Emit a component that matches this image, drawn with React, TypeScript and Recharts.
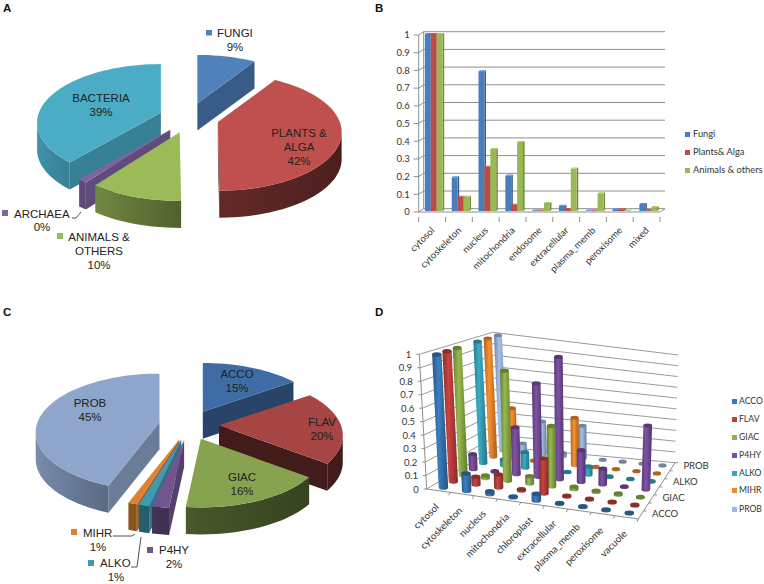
import React from "react";
import { PieChart, Pie, BarChart, Bar, XAxis, YAxis, CartesianGrid, ScatterChart, Scatter } from "recharts";

// ---- Panel A ----
const kingdomNames = ["FUNGI", "PLANTS & ALGA", "ANIMALS & OTHERS", "ARCHAEA", "BACTERIA"];
const kingdomValues = [8.6, 41.6, 10, 0.4, 39.4];
const kingdomColors = ["#4f81bd", "#c0504d", "#9bbb59", "#8064a2", "#4bacc6"];
const kingdomPaintOrder = ["FUNGI", "PLANTS & ALGA", "BACTERIA", "ARCHAEA", "ANIMALS & OTHERS"];

// ---- Panel B ----
const compartmentsB = ["cytosol", "cytoskeleton", "nucleus", "mitochondria", "endosome", "extracellular", "plasma_memb", "peroxisome", "mixed"];
const fungiValues = [1, 0.19, 0.79, 0.2, 0.003, 0.03, 0.003, 0.01, 0.04];
const plantsValues = [1, 0.08, 0.25, 0.035, 0.003, 0.012, 0.003, 0.01, 0.005];
const animalsValues = [1, 0.08, 0.35, 0.39, 0.045, 0.24, 0.1, 0.002, 0.022];
const valueTicks = [0, 0.1, 0.2, 0.3, 0.4, 0.5, 0.6, 0.7, 0.8, 0.9, 1];

// ---- Panel C ----
const proteinNames = ["ACCO", "FLAV", "GIAC", "P4HY", "ALKO", "MIHR", "PROB"];
const proteinValues = [15.3, 20.3, 16.4, 1.9, 1.2, 1, 44.6];
const proteinPieColors = ["#3f6ca5", "#a64543", "#86a44f", "#70558f", "#3f9bb3", "#dd8230", "#8ea5cc"];
const proteinPaintOrder = ["ACCO", "FLAV", "PROB", "MIHR", "ALKO", "P4HY", "GIAC"];

// ---- Panel D ----
const compartmentsD = ["cytosol", "cytoskeleton", "nucleus", "mitochondria", "chloroplast", "extracellular", "plasma_memb", "peroxisome", "vacuole"];
const accoD = [1, 0.13, 0.02, 0.005, 0.05, 0.005, 0.005, 0.005, 0.005];
const flavD = [1, 0.06, 0.1, 0.01, 0.27, 0.005, 0.005, 0.005, 0.005];
const giacD = [1, 0.02, 0.87, 0.06, 0.48, 0.02, 0.01, 0.01, 0.005];
const p4hyD = [0.12, 0.005, 0.38, 0.76, 1, 0.26, 0.13, 0.005, 0.53];
const alkoD = [1, 0.05, 0.13, 0.005, 0.005, 0.07, 0.005, 0.005, 0.005];
const mihrD = [1, 0.43, 0.005, 0.005, 0.41, 0.005, 0.005, 0.005, 0.005];
const probD = [1, 0.08, 0.29, 0.03, 0.29, 0.005, 0.005, 0.005, 0.005];
const seriesD = [accoD, flavD, giacD, p4hyD, alkoD, mihrD, probD];
const seriesColorsD = ["#3a78b8", "#c0403c", "#8fb04a", "#7a4f9e", "#38a6bd", "#ee8a2e", "#9db8e0"];
const depthLabels = ["ACCO", "", "GIAC", "", "ALKO", "", "PROB"];

const SANS = "'Liberation Sans', Arial, sans-serif";
const CAL = "Lato, sans-serif";
const W = 764;
const H = 584;

function shade(hex: string, f: number) {
  const n = parseInt(hex.slice(1), 16);
  const c = [(n >> 16) & 255, (n >> 8) & 255, n & 255].map((v) => Math.min(255, Math.round(v * f)));
  return `rgb(${c[0]},${c[1]},${c[2]})`;
}

// ---- exploded pie in perspective ----
const TILT = 0.467;
const PERSP = 0.17;
const EXPLODE = 0.246;
const DEPTH = 27;
const rad = (d: number) => (d * Math.PI) / 180;

function wallLight(deg: number) {
  const s = Math.sin(rad(deg));
  return s > 0 ? 0.52 - 0.14 * s : 0.52 - 0.35 * s;
}

function Slice3D(props: any) {
  const { cx, cy, outerRadius: R, startAngle, endAngle, fill } = props;
  const a0 = 90 - startAngle;
  const a1 = 90 - endAngle;
  const mid = rad((a0 + a1) / 2);
  const ax = cx + EXPLODE * R * Math.sin(mid);
  const ay = cy - EXPLODE * R * 0.5 * Math.cos(mid);
  const rim = (deg: number) => {
    const t = rad(deg);
    const den = 1 + PERSP * Math.cos(t);
    return [ax + (R * Math.sin(t)) / den, ay - (R * TILT * Math.cos(t)) / den];
  };
  const sweep = (from: number, to: number) => {
    const steps = Math.max(2, Math.ceil((to - from) / 3));
    const out: number[] = [];
    for (let i = 0; i <= steps; i++) out.push(from + ((to - from) * i) / steps);
    return out;
  };
  const arc = sweep(a0, a1).map(rim);
  const top = `M${ax},${ay} ` + arc.map((p) => `L${p[0]},${p[1]}`).join(" ") + " Z";

  // the part of the rim that faces the viewer
  const w0 = Math.max(a0, 101);
  const w1 = Math.min(a1, 259);
  let wall = null;
  if (w1 > w0) {
    const angles = sweep(w0, w1);
    const pts = angles.map(rim);
    const right = pts[0][0];
    const left = pts[pts.length - 1][0];
    const id = `wall${fill.slice(1)}`;
    const path =
      pts.map((p, i) => `${i ? "L" : "M"}${p[0]},${p[1]}`).join(" ") +
      " " +
      [...pts].reverse().map((p) => `L${p[0]},${p[1] + DEPTH}`).join(" ") +
      " Z";
    wall = (
      <g>
        <defs>
          <linearGradient id={id} gradientUnits="userSpaceOnUse" x1={left} x2={Math.max(right, left + 0.01)} y1={0} y2={0}>
            {[...angles].reverse().map((a, i) => (
              <stop key={i} offset={(rim(a)[0] - left) / Math.max(right - left, 0.01)} stopColor={shade(fill, wallLight(a))} />
            ))}
          </linearGradient>
        </defs>
        <path d={path} fill={`url(#${id})`} />
      </g>
    );
  }
  const cut = (deg: number) => {
    const p = rim(deg);
    const f = deg < 180 ? 0.82 - (0.3 * deg) / 90 : 0.75;
    return (
      <polygon fill={shade(fill, f)}
        points={`${ax},${ay} ${p[0]},${p[1]} ${p[0]},${p[1] + DEPTH} ${ax},${ay + DEPTH}`} />
    );
  };
  return (
    <g>
      {Math.sin(rad(a0)) < 0 && a0 > 0.01 && cut(a0)}
      {Math.sin(rad(a1)) > 0 && cut(a1)}
      {wall}
      <path d={top} fill={fill} />
    </g>
  );
}

// every slice is painted by its own pass, so that nearer faces cover farther ones
const onlySlice = (name: string) => (props: any) => (props.name === name ? <Slice3D {...props} /> : <g />);

function Lines({ x, y, lines, anchor = "middle", size = 11.5 }: any) {
  return (
    <text fontFamily={SANS} fontSize={size} fill="#222" textAnchor={anchor}>
      {lines.map((l: string, i: number) => (
        <tspan key={i} x={x} y={y + i * 14}>{l}</tspan>
      ))}
    </text>
  );
}

const PanelLetter = ({ c, x, y }: any) => (
  <text x={x} y={y} fontFamily={SANS} fontSize={11.5} fontWeight="bold" fill="#111">{c}</text>
);

const Layer = ({ children }: any) => <div style={{ position: "absolute", left: 0, top: 0 }}>{children}</div>;

const faceLabels: Record<string, any> = {
  "PLANTS & ALGA": { x: 299, y: 137, lines: ["PLANTS &", "ALGA", "42%"] },
  BACTERIA: { x: 101, y: 102, lines: ["BACTERIA", "39%"] },
  ACCO: { x: 237, y: 378, lines: ["ACCO", "15%"] },
  FLAV: { x: 322, y: 426, lines: ["FLAV", "20%"] },
  GIAC: { x: 242, y: 481, lines: ["GIAC", "16%"] },
  PROB: { x: 90, y: 407, lines: ["PROB", "45%"] },
};
const renderFaceLabel = (p: any) => {
  const l = faceLabels[p.name];
  return l ? <Lines key={p.name} {...l} /> : <g key={p.name} />;
};

function PanelA() {
  const data = kingdomNames.map((name, i) => ({ name, value: kingdomValues[i], fill: kingdomColors[i] }));
  return (
    <PieChart width={W} height={H} margin={{ top: 0, right: 0, bottom: 0, left: 0 }}>
      {kingdomPaintOrder.map((n, i) => (
        <Pie key={n} data={data} dataKey="value" cx={189} cy={118} outerRadius={122} startAngle={90} endAngle={-270}
          minAngle={2.5} stroke="none" shape={onlySlice(n)} label={i === kingdomPaintOrder.length - 1 ? renderFaceLabel : false}
          labelLine={false} isAnimationActive={false} />
      ))}
      <PanelLetter c="A" x={3} y={12} />
      <rect x={206} y={30} width={6} height={5.5} fill={kingdomColors[0]} />
      <text x={217} y={37} fontFamily={SANS} fontSize={11.5} fill="#222">FUNGI</text>
      <Lines x={235} y={51} lines={["9%"]} />
      <rect x={2} y={210} width={6} height={6} fill={kingdomColors[3]} />
      <text x={14} y={218} fontFamily={SANS} fontSize={11.5} fill="#222">ARCHAEA</text>
      <Lines x={42} y={231} lines={["0%"]} />
      <path d="M72,218 H76 L81,212" fill="none" stroke="#222" strokeWidth={0.8} />
      <rect x={57} y={233} width={6} height={6} fill={kingdomColors[2]} />
      <Lines x={99} y={241} lines={["ANIMALS &", "OTHERS", "10%"]} />
    </PieChart>
  );
}

function PanelC() {
  const data = proteinNames.map((name, i) => ({ name, value: proteinValues[i], fill: proteinPieColors[i] }));
  return (
    <PieChart width={W} height={H} margin={{ top: 0, right: 0, bottom: 0, left: 0 }}>
      {proteinPaintOrder.map((n, i) => (
        <Pie key={n} data={data} dataKey="value" cx={189} cy={425} outerRadius={122} startAngle={90} endAngle={-270}
          stroke="none" shape={onlySlice(n)} label={i === proteinPaintOrder.length - 1 ? renderFaceLabel : false}
          labelLine={false} isAnimationActive={false} />
      ))}
      <PanelLetter c="C" x={3} y={316} />
      <rect x={71} y={529} width={6} height={6} fill={proteinPieColors[5]} />
      <text x={83} y={537} fontFamily={SANS} fontSize={11.5} fill="#222">MIHR</text>
      <Lines x={98} y={551} lines={["1%"]} />
      <path d="M113,536 H132 L135,534" fill="none" stroke="#222" strokeWidth={0.8} />
      <rect x={88} y={560} width={6} height={6} fill={proteinPieColors[4]} />
      <text x={100} y={567} fontFamily={SANS} fontSize={11.5} fill="#222">ALKO</text>
      <Lines x={116} y={581} lines={["1%"]} />
      <path d="M131,567 H137 L141,537" fill="none" stroke="#222" strokeWidth={0.8} />
      <rect x={147} y={547} width={6} height={6} fill={proteinPieColors[3]} />
      <text x={159} y={554} fontFamily={SANS} fontSize={11.5} fill="#222">P4HY</text>
      <Lines x={174} y={568} lines={["2%"]} />
    </PieChart>
  );
}

// ---- Panel B ----
const GRID = "#8e8e8e";
const WALL_DX = 5;
const WALL_DY = 3.3;

function Bar3D(props: any) {
  const { x, y, width, height, fill } = props;
  if (height == null) return null;
  const X = x + 1.2;
  const Y = y - 1;
  const d = 1.6;
  const dy = 1;
  return (
    <g>
      <polygon fill={shade(fill, 0.75)} points={`${X + width},${Y} ${X + width + d},${Y - dy} ${X + width + d},${Y + height - dy} ${X + width},${Y + height}`} />
      <polygon fill={shade(fill, 1.12)} points={`${X},${Y} ${X + d},${Y - dy} ${X + width + d},${Y - dy} ${X + width},${Y}`} />
      <rect x={X} y={Y} width={width} height={height} fill={fill} />
    </g>
  );
}

function gridLineB(p: any) {
  const { x1, x2, y1 } = p;
  return (
    <path key={p.key ?? y1} d={`M${x1},${y1} L${x1 + WALL_DX},${y1 - WALL_DY} H${x2 + WALL_DX}`} fill="none" stroke={GRID} strokeWidth={1} />
  );
}

function XTickB(props: any) {
  const { x, y, payload, index } = props;
  const step = 26.8;
  return (
    <g>
      <line x1={x - step / 2} x2={x - step / 2} y1={y - 3} y2={y + 2} stroke={GRID} />
      {index === compartmentsB.length - 1 && <line x1={x + step / 2} x2={x + step / 2} y1={y - 3} y2={y + 2} stroke={GRID} />}
      <text transform={`translate(${x + 3},${y + 11}) rotate(-45)`} textAnchor="end" fontFamily={CAL} fontSize={9.5} fill="#333">{payload.value}</text>
    </g>
  );
}

function PanelB() {
  const data = compartmentsB.map((name, i) => ({ name, fungi: fungiValues[i], plants: plantsValues[i], animals: animalsValues[i] }));
  const legend = [["Fungi", "#4a7ebb", 137], ["Plants& Alga", "#be4b48", 155], ["Animals & others", "#98b954", 173]] as const;
  return (
    <BarChart width={W} height={H} data={data} barGap={0} barSize={5.9}
      margin={{ top: 35, right: 104, bottom: 342, left: 388.7 }}>
      <CartesianGrid vertical={false} horizontal={gridLineB} />
      <line x1={423.7} x2={423.7} y1={31.7} y2={208.7} stroke={GRID} />
      <line x1={660} x2={665} y1={212} y2={208.7} stroke={GRID} />
      <XAxis dataKey="name" height={30} interval={0} axisLine={{ stroke: GRID }} tickLine={false} tick={XTickB} />
      <YAxis width={30} domain={[0, 1]} ticks={valueTicks} interval={0} axisLine={{ stroke: GRID }} tickLine={{ stroke: GRID }}
        tickSize={5} tickMargin={4} tick={{ fontFamily: CAL, fontSize: 9.5, fill: "#333" }} />
      <Bar dataKey="fungi" fill="#4a7ebb" shape={Bar3D} isAnimationActive={false} />
      <Bar dataKey="plants" fill="#be4b48" shape={Bar3D} isAnimationActive={false} />
      <Bar dataKey="animals" fill="#98b954" shape={Bar3D} isAnimationActive={false} />
      <PanelLetter c="B" x={375} y={12} />
      {legend.map(([t, c, y]) => (
        <g key={t}>
          <rect x={685} y={y - 5} width={5} height={5} fill={c} />
          <text x={693} y={y} fontFamily={CAL} fontSize={9.3} fill="#333">{t}</text>
        </g>
      ))}
    </BarChart>
  );
}

// ---- Panel D: library scales are re-mapped on to a perspective box ----
const PLOT = { left: 400, top: 330, width: 300, height: 194 };
const CORNERS = {
  fl: [426.7, 489], fr: [638.3, 519], br: [675, 462.7], bl: [498.3, 446.7],
  tfl: [419.3, 354.3], tfr: [643.3, 385.7], tbr: [678.3, 355], tbl: [492.7, 332.3],
};
const mix = (a: number[], b: number[], t: number) => [a[0] + (b[0] - a[0]) * t, a[1] + (b[1] - a[1]) * t];
function project(u: number, d: number, v: number) {
  const c = CORNERS;
  const floor = mix(mix(c.fl, c.fr, u), mix(c.bl, c.br, u), d);
  const roof = mix(mix(c.tfl, c.tfr, u), mix(c.tbl, c.tbr, u), d);
  return mix(floor, roof, v);
}

const makeCylinder = (series: number) => (props: any) => {
  const { cx, cy } = props;
  if (cx == null || cy == null) return null;
  const u = (cx - PLOT.left) / PLOT.width;
  const v = (PLOT.top + PLOT.height - cy) / PLOT.height;
  const d = (series + 0.5) / seriesD.length;
  const b = project(u, d, 0);
  const t = project(u, d, v);
  const rx = 4.8 - 0.9 * d;
  const ry = rx * 0.48;
  const base = seriesColorsD[series];
  return (
    <g>
      <path fill={`url(#cyl${series})`}
        d={`M${b[0] - rx},${b[1]} A${rx},${ry} 0 0 0 ${b[0] + rx},${b[1]} L${t[0] + rx},${t[1]} L${t[0] - rx},${t[1]} Z`} />
      <ellipse cx={t[0]} cy={t[1]} rx={rx} ry={ry} fill={shade(base, 0.72)} />
    </g>
  );
};

function gridLineD(p: any) {
  const v = (PLOT.top + PLOT.height - p.y1) / PLOT.height;
  const a = project(0, 0, v);
  const b = project(0, 1, v);
  const c = project(1, 1, v);
  return <path key={p.key ?? p.y1} d={`M${a[0]},${a[1]} L${b[0]},${b[1]} L${c[0]},${c[1]}`} fill="none" stroke={GRID} strokeWidth={0.9} />;
}

function YTickD({ payload }: any) {
  const p = project(0, 0, payload.value);
  return (
    <g>
      <line x1={p[0] - 3} x2={p[0]} y1={p[1]} y2={p[1]} stroke={GRID} />
      <text x={p[0] - 8} y={p[1] + 3.5} textAnchor="end" fontFamily={CAL} fontSize={9.5} fill="#333">{payload.value}</text>
    </g>
  );
}

function XTickD({ payload }: any) {
  const i = payload.value;
  const n = compartmentsD.length;
  const p = project((i + 0.5) / n, 0, 0);
  const e = project((i + 1) / n, 0, 0);
  return (
    <g>
      <line x1={e[0]} x2={e[0] - 1.5} y1={e[1]} y2={e[1] + 3} stroke={GRID} />
      <text transform={`translate(${p[0] + 1},${p[1] + 17}) rotate(-45)`} textAnchor="end" fontFamily={CAL} fontSize={9.8} fill="#333">{compartmentsD[i]}</text>
    </g>
  );
}

function PanelD() {
  const fl = project(0, 0, 0), fr = project(1, 0, 0), br = project(1, 1, 0), tl = project(0, 0, 1);
  const legendY = [404, 422, 440, 458, 476, 493, 512];
  const xTicks = compartmentsD.map((_, i) => i);
  return (
    <ScatterChart width={W} height={H} margin={{ top: PLOT.top, right: W - PLOT.left - PLOT.width, bottom: H - PLOT.top - PLOT.height - 10, left: PLOT.left - 10 }}>
      <defs>
        {seriesColorsD.map((c, i) => (
          <linearGradient key={c} id={`cyl${i}`} x1="0" x2="1" y1="0" y2="0">
            <stop offset="0" stopColor={shade(c, 0.72)} />
            <stop offset="0.4" stopColor={shade(c, 1.05)} />
            <stop offset="1" stopColor={shade(c, 0.68)} />
          </linearGradient>
        ))}
      </defs>
      <CartesianGrid vertical={false} horizontal={gridLineD} />
      <line x1={fl[0]} y1={fl[1]} x2={fr[0]} y2={fr[1]} stroke={GRID} />
      <line x1={fr[0]} y1={fr[1]} x2={br[0]} y2={br[1]} stroke={GRID} />
      <line x1={fl[0]} y1={fl[1]} x2={tl[0]} y2={tl[1]} stroke={GRID} />
      <XAxis type="number" dataKey="i" domain={[-0.5, 8.5]} ticks={xTicks} interval={0} height={10} axisLine={false} tickLine={false} tick={XTickD} />
      <YAxis type="number" dataKey="v" domain={[0, 1]} ticks={valueTicks} interval={0} width={10} axisLine={false} tickLine={false} tick={YTickD} />
      {seriesD.map((_, k) => seriesD.length - 1 - k).map((s) => (
        <Scatter key={s} name={proteinNames[s]} data={seriesD[s].map((v, i) => ({ i, v }))} shape={makeCylinder(s)} isAnimationActive={false} />
      ))}
      {depthLabels.map((l, i) => {
        const p = project(1, (i + 0.5) / depthLabels.length, 0);
        const q = project(1, (i + 1) / depthLabels.length, 0);
        return (
          <g key={i}>
            <line x1={q[0]} x2={q[0] + 3} y1={q[1]} y2={q[1]} stroke={GRID} />
            {l && <text x={p[0] + 11} y={p[1] + 2} fontFamily={CAL} fontSize={9.5} fill="#333">{l}</text>}
          </g>
        );
      })}
      <PanelLetter c="D" x={375} y={316} />
      {proteinNames.map((n, i) => (
        <g key={n}>
          <rect x={732} y={legendY[i] - 5} width={5} height={5} fill={seriesColorsD[i]} />
          <text x={739} y={legendY[i]} fontFamily={CAL} fontSize={8.6} fill="#333">{n}</text>
        </g>
      ))}
    </ScatterChart>
  );
}

export default function App() {
  return (
    <div style={{ position: "absolute", left: 0, top: 0, width: W, height: H, background: "#fff", overflow: "hidden" }}>
      <Layer><PanelA /></Layer>
      <Layer><PanelB /></Layer>
      <Layer><PanelC /></Layer>
      <Layer><PanelD /></Layer>
    </div>
  );
}
